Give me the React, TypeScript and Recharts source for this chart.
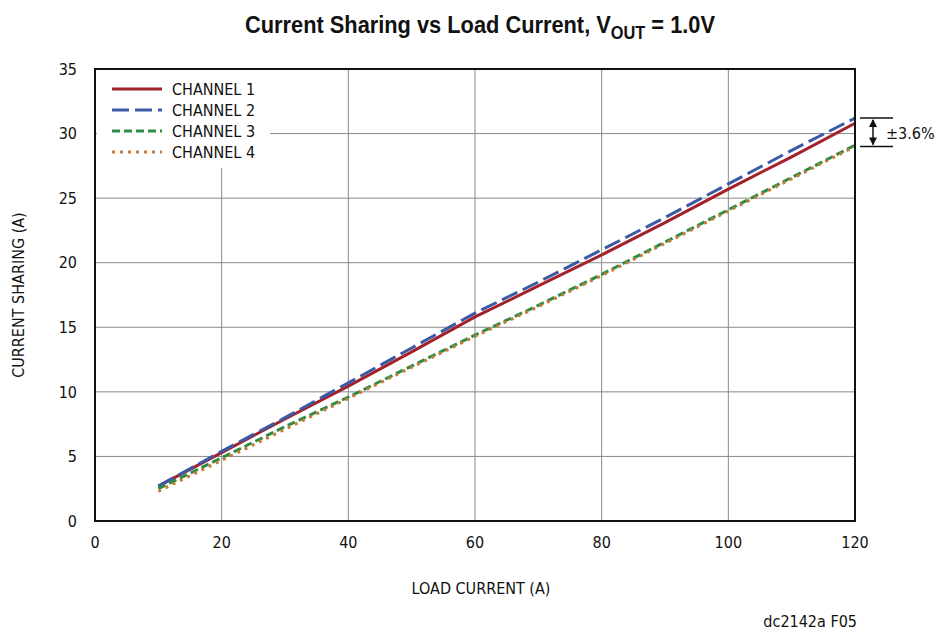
import { LineChart, Line, XAxis, YAxis, CartesianGrid } from 'recharts'

const loadCurrent = [10, 20, 30, 40, 50, 60, 70, 80, 90, 100, 110, 120]
const channel1 = [2.7, 5.3, 7.9, 10.45, 13.1, 15.8, 18.2, 20.6, 23.1, 25.7, 28.2, 30.8]
const channel2 = [2.7, 5.4, 8.0, 10.7, 13.4, 16.1, 18.5, 21.0, 23.5, 26.1, 28.7, 31.2]
const channel3 = [2.5, 4.9, 7.3, 9.6, 12.0, 14.4, 16.7, 19.1, 21.6, 24.1, 26.6, 29.1]
const channel4 = [2.3, 4.7, 7.1, 9.5, 11.9, 14.3, 16.6, 19.0, 21.5, 24.0, 26.5, 29.0]
const xTicks = [0, 20, 40, 60, 80, 100, 120]
const yTicks = [0, 5, 10, 15, 20, 25, 30, 35]
const spreadTop = 31.2
const spreadBottom = 29.0

const data = loadCurrent.map((x, i) => ({
  x,
  ch1: channel1[i],
  ch2: channel2[i],
  ch3: channel3[i],
  ch4: channel4[i],
}))

const series = [
  { key: 'ch1', name: 'CHANNEL 1', color: '#a3222a', dash: undefined },
  { key: 'ch2', name: 'CHANNEL 2', color: '#3b5aa6', dash: '17 6' },
  { key: 'ch3', name: 'CHANNEL 3', color: '#2e8b45', dash: '8 4' },
  { key: 'ch4', name: 'CHANNEL 4', color: '#c77a34', dash: '3 5' },
]

const W = 937
const H = 631
const font = '"Liberation Sans Narrow", "DejaVu Sans Condensed", Arial, sans-serif'
const titleFont = '"Liberation Sans", Arial, sans-serif'
const plot = { left: 95, right: 855, top: 69, bottom: 521 }
// same mapping as the y axis domain [0, 35]
const yPx = (v: number) => plot.bottom - (v / 35) * (plot.bottom - plot.top)

export default function App() {
  return (
    <div style={{ position: 'absolute', left: 0, top: 0, width: W, height: H, background: '#fff', fontFamily: font }}>
      <LineChart width={W} height={H} data={data} margin={{ top: 69, right: 82, bottom: 80, left: 35 }}>
        <CartesianGrid stroke="#8a8a8a" strokeWidth={1} />
        <XAxis
          dataKey="x"
          type="number"
          domain={[0, 120]}
          ticks={xTicks}
          height={30}
          tickLine={false}
          axisLine={{ stroke: '#111', strokeWidth: 2 }}
          tick={{ fontSize: 16, fill: '#111', fontFamily: font }}
          tickMargin={10}
        />
        <YAxis
          type="number"
          domain={[0, 35]}
          ticks={yTicks}
          width={60}
          tickLine={false}
          axisLine={{ stroke: '#111', strokeWidth: 2 }}
          tick={{ fontSize: 16, fill: '#111', fontFamily: font }}
          tickMargin={12}
        />
        {series.map(s => (
          <Line
            key={s.key}
            dataKey={s.key}
            type="linear"
            stroke={s.color}
            strokeWidth={3}
            strokeDasharray={s.dash}
            dot={false}
            isAnimationActive={false}
          />
        ))}
      </LineChart>
      <svg width={W} height={H} style={{ position: 'absolute', left: 0, top: 0, pointerEvents: 'none' }}>
        <rect x={plot.left} y={plot.top} width={plot.right - plot.left} height={plot.bottom - plot.top} fill="none" stroke="#111" strokeWidth={2} />
        <text x={245} y={33} textLength={470} lengthAdjust="spacingAndGlyphs" fontSize={24} fontWeight="bold" fill="#111" fontFamily={titleFont}>
          Current Sharing vs Load Current, V
          <tspan fontSize={18} dy={6}>OUT</tspan>
          <tspan dy={-6}> = 1.0V</tspan>
        </text>
        <text x={481} y={594} textAnchor="middle" fontSize={16} fill="#111" fontFamily={font}>LOAD CURRENT (A)</text>
        <text transform="translate(24 295) rotate(-90)" textAnchor="middle" fontSize={16} fill="#111" fontFamily={font}>CURRENT SHARING (A)</text>
        <text x={857} y={627} textAnchor="end" fontSize={16} fill="#111" fontFamily={font}>dc2142a F05</text>
        {/* legend */}
        <rect x={97} y={70} width={173} height={98} fill="#fff" />
        {series.map((s, i) => (
          <g key={s.key}>
            <line x1={112} x2={162} y1={89 + i * 21} y2={89 + i * 21} stroke={s.color} strokeWidth={3} strokeDasharray={s.dash} />
            <text x={172} y={95 + i * 21} fontSize={16} fill="#111" fontFamily={font}>{s.name}</text>
          </g>
        ))}
        {/* spread annotation */}
        <line x1={860} x2={893} y1={yPx(spreadTop)} y2={yPx(spreadTop)} stroke="#111" strokeWidth={1.5} />
        <line x1={860} x2={893} y1={yPx(spreadBottom)} y2={yPx(spreadBottom)} stroke="#111" strokeWidth={1.5} />
        <line x1={873} x2={873} y1={yPx(spreadTop) + 2} y2={yPx(spreadBottom) - 2} stroke="#111" strokeWidth={1.5} />
        <path d={`M869 ${yPx(spreadTop) + 9} L873 ${yPx(spreadTop) + 1} L877 ${yPx(spreadTop) + 9} Z`} fill="#111" />
        <path d={`M869 ${yPx(spreadBottom) - 9} L873 ${yPx(spreadBottom) - 1} L877 ${yPx(spreadBottom) - 9} Z`} fill="#111" />
        <text x={886} y={139} fontSize={16} fill="#111" fontFamily={font}>±3.6%</text>
      </svg>
    </div>
  )
}
